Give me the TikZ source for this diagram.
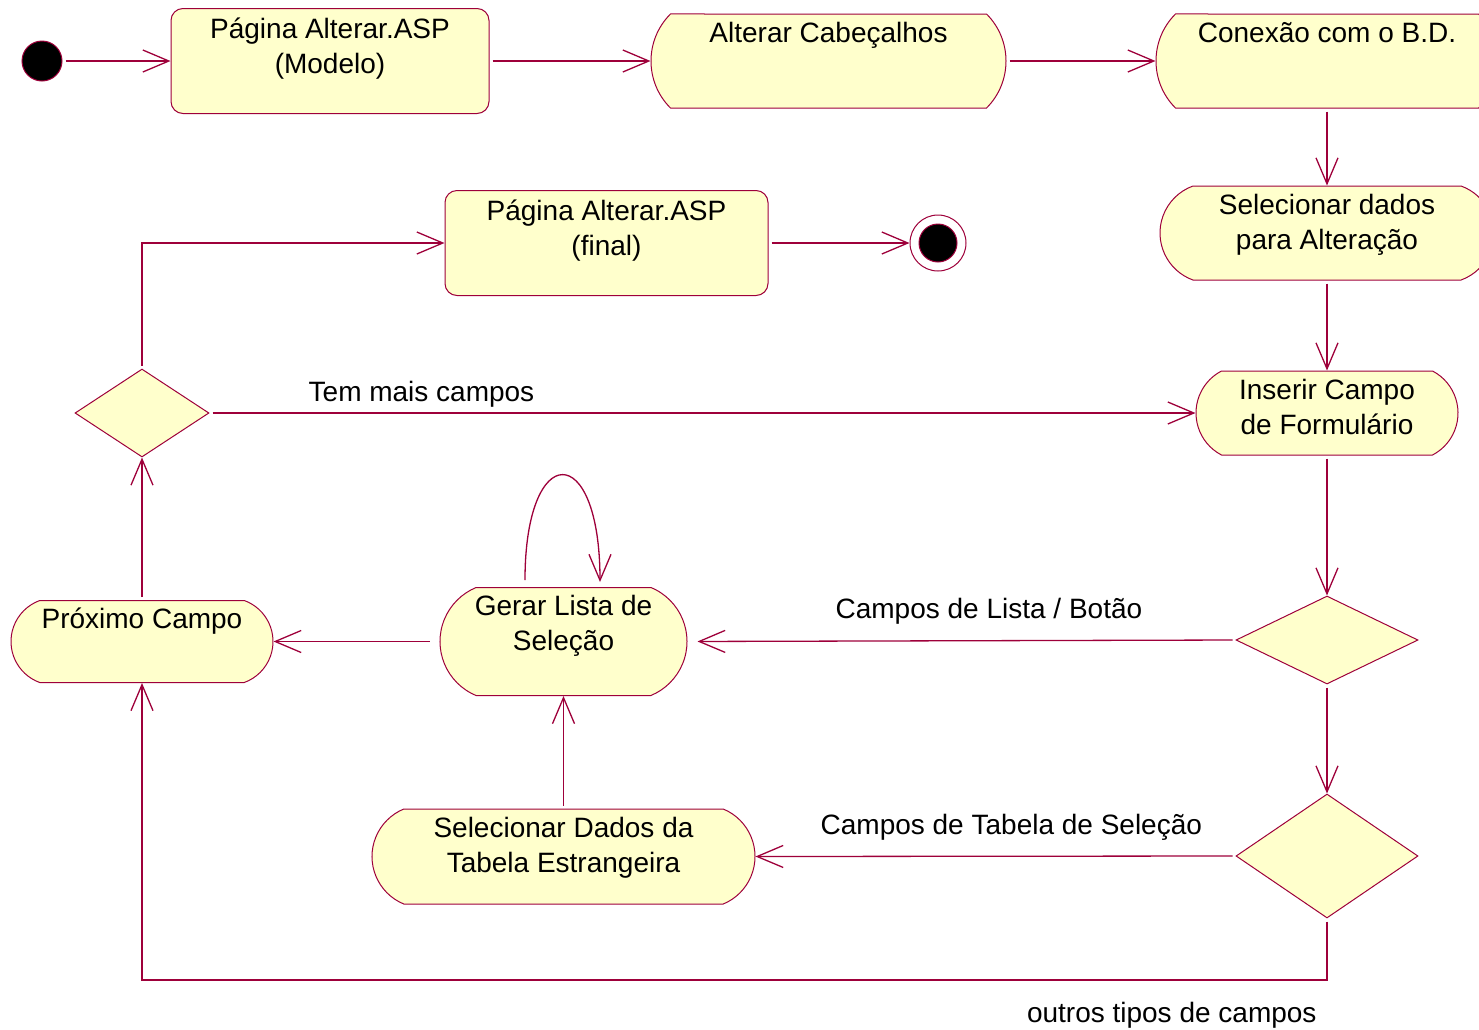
\documentclass[tikz,border=0pt]{standalone}
\usepackage{fontspec}
\setmainfont{Liberation Sans}
\usetikzlibrary{arrows.meta,shapes.geometric,shapes.misc}

\definecolor{umlred}{RGB}{158,0,58}
\definecolor{umlfill}{RGB}{255,255,204}
\newcommand{\acttext}[1]{\begin{tabular}[t]{@{}c@{}}#1\end{tabular}}

\begin{document}
\begin{tikzpicture}[x=0.5pt,y=-0.5pt,
    font=\fontsize{14}{17.5}\selectfont,
    >={Straight Barb[length=13pt,width=11pt]},
    activity/.style={rounded rectangle,rounded rectangle arc length=135,
      draw=umlred,fill=umlfill,line width=0.5pt,
      inner xsep=2pt,inner ysep=3pt,text height=11pt},
    page/.style={rectangle,rounded corners=6pt,draw=umlred,fill=umlfill,
      line width=0.5pt,inner ysep=3pt,text height=12pt},
    decision/.style={diamond,draw=umlred,fill=umlfill,line width=0.5pt,inner sep=0pt},
    start/.style={circle,draw=umlred,fill=black,line width=0.5pt,
      minimum size=20pt,inner sep=0pt},
    stop/.style={circle,draw=umlred,fill=white,line width=0.5pt,
      minimum size=28pt,inner sep=0pt,
      path picture={\filldraw[draw=umlred,fill=black]
        (path picture bounding box.center) circle (9.5pt);}},
    flow/.style={->,draw=umlred,line width=0.65pt,shorten <=1.5pt},
    guard/.style={text=black}]
  \useasboundingbox (0,0) rectangle (1479,1029);

  % top row
  \node[start] (ini) at (42,61) {};
  \node[page,minimum width=159pt,text depth=34.5pt] (pmod) at (330,61)
    {\acttext{Página Alterar.ASP\\(Modelo)}};
  \node[activity,rounded rectangle arc length=90,minimum width=181.5pt,
    text depth=30pt] (alt) at (828.5,61) {Alterar Cabeçalhos};
  \node[activity,rounded rectangle arc length=90,minimum width=175pt,
    text depth=30pt] (con) at (1327,61) {Conexão com o B.D.};

  % right column
  \node[activity,rounded rectangle arc length=140,minimum width=171pt,
    text depth=30pt] (sel) at (1327,233) {\acttext{Selecionar dados\\para Alteração}};
  \node[activity,rounded rectangle arc length=125,minimum width=135pt,
    text depth=25pt] (ins) at (1327,413) {\acttext{Inserir Campo\\de Formulário}};
  \node[decision,minimum width=91pt,minimum height=44pt] (d1) at (1327,640) {};
  \node[decision,minimum width=91pt,minimum height=62pt] (d2) at (1327,856) {};

  % left part
  \node[decision,minimum width=67pt,minimum height=44pt] (d0) at (142,413) {};
  \node[page,minimum width=161.5pt,text depth=34.5pt] (pfin) at (606.5,243)
    {\acttext{Página Alterar.ASP\\(final)}};
  \node[stop] (fim) at (938,243) {};
  \node[activity,minimum width=127.5pt,text depth=37pt] (gerar) at (563.5,641.5)
    {\acttext{Gerar Lista de\\Seleção}};
  \node[activity,rounded rectangle arc length=140,minimum width=135pt,
    text depth=24pt] (prox) at (142,641.5) {Próximo Campo};
  \node[activity,minimum width=195.5pt,text depth=30.5pt] (tab) at (563.5,856.5)
    {\acttext{Selecionar Dados da\\Tabela Estrangeira}};

  \coordinate (low) at (0,980);

%  transitions
  \path[every edge/.style={flow}]
    (ini)        edge                          (pmod.west)
    (pmod.east)  edge                          (alt.west)
    (alt.east)   edge                          (con.west)
    (con.south)  edge                          (sel.north)
    (sel.south)  edge                          (ins.north)
    (ins.south)  edge                          (d1.north)
    (d1.west)    edge [shorten >=5pt]  node[guard,pos=0.45,above=4.3pt]
                      {Campos de Lista / Botão}     (gerar.east)
    (d1.south)   edge                          (d2.north)
    (d2.west)    edge                  node[guard,pos=0.467,above=4.3pt]
                      {Campos de Tabela de Seleção} (tab.east)
    (tab.north)  edge                          (gerar.south)
    ([xshift=-19.25pt,yshift=2pt]gerar.north)
                 edge [out=90,in=90,distance=71.5pt]
                      ([xshift=18.25pt,yshift=2.5pt]gerar.north)
    (gerar.west) edge [shorten <=5pt]          (prox.east)
    (prox.north) edge                          (d0.south)
    (d0.east)    edge                  node[guard,pos=0.215,above=-1pt]
                      {Tem mais campos}        (ins.west)
    (pfin.east)  edge                          (fim);

  \draw[flow] (d0.north) |- (pfin.west);
  \draw[flow] (d2.south) -- (d2.south |- low)
    -- node[guard,pos=0.131,below=7.5pt] {outros tipos de campos} (prox.south |- low)
    -- (prox.south);
\end{tikzpicture}
\end{document}
